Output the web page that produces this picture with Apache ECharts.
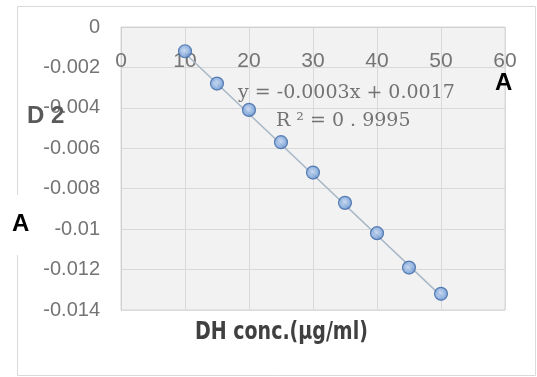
<!DOCTYPE html>
<html>
<head>
<meta charset="utf-8">
<script src="https://cdn.jsdelivr.net/npm/echarts@6/dist/echarts.min.js"></script>
<style>
html, body { margin: 0; padding: 0; background: #fff; }
#main { width: 537px; height: 377px; }
</style>
</head>
<body>
<div id="main"></div>
<script>
// 浓度 (x) 与测得值 (y)
var conc = [10, 15, 20, 25, 30, 35, 40, 45, 50];
var vals = [-0.0012, -0.0028, -0.0041, -0.0057, -0.0072, -0.0087, -0.0102, -0.0119, -0.0132];
// 趋势线两端
var trendX = [10, 50];
var trendY = [-0.0013, -0.0133];
var yTicks = [0, -0.002, -0.004, -0.006, -0.008, -0.01, -0.012, -0.014];

var myChart = echarts.init(document.getElementById('main'));

var points = [];
for (var i = 0; i < conc.length; i++) {
    points.push([conc[i], vals[i]]);
}
var trend = [];
for (var j = 0; j < trendX.length; j++) {
    trend.push([trendX[j], trendY[j]]);
}

var option = {
    animation: false,
    grid: { left: 121, top: 27, right: 32, bottom: 67, show: true, backgroundColor: '#f2f2f2', borderColor: '#d9d9d9', borderWidth: 1 },
    xAxis: {
        type: 'value',
        position: 'top',
        min: 0,
        max: 60,
        interval: 10,
        axisLine: { show: true, lineStyle: { color: '#d0d0d0' } },
        axisTick: { show: false },
        axisLabel: { inside: true, margin: 24, color: '#747474', fontSize: 21, fontFamily: 'Liberation Sans' },
        splitLine: { show: true, lineStyle: { color: '#d9d9d9' } }
    },
    yAxis: {
        type: 'value',
        min: yTicks[yTicks.length - 1],
        max: yTicks[0],
        interval: 0.002,
        axisLine: { show: true, lineStyle: { color: '#d0d0d0' } },
        axisTick: { show: false },
        axisLabel: {
            margin: 21,
            color: '#747474',
            fontSize: 20,
            fontFamily: 'Liberation Sans',
            formatter: function (v) { return String(parseFloat(v.toFixed(3))); }
        },
        splitLine: { show: true, lineStyle: { color: '#d9d9d9' } }
    },
    series: [
        {
            type: 'line',
            data: trend,
            symbol: 'none',
            lineStyle: { color: '#a9b8c8', width: 1.5 },
            z: 2
        },
        {
            type: 'scatter',
            data: points,
            symbol: 'circle',
            symbolSize: 13,
            itemStyle: {
                color: new echarts.graphic.RadialGradient(0.45, 0.45, 0.6, [
                    { offset: 0, color: '#c3d6f2' },
                    { offset: 0.6, color: '#7ea6dc' },
                    { offset: 1, color: '#4f7fc0' }
                ]),
                borderColor: '#3d68a6',
                borderWidth: 1.2
            },
            z: 3
        }
    ],
    graphic: [
        { type: 'rect', left: 15, top: 4, shape: { width: 518, height: 369 }, style: { fill: 'none', stroke: '#d9d9d9', lineWidth: 1 }, z: -1 },
        { type: 'rect', left: 0, top: 195, shape: { width: 45, height: 60 }, style: { fill: '#fff' }, z: 10 },
        { type: 'text', left: 12, top: 212, style: { text: 'A', font: 'bold 24px "Liberation Sans"', fill: '#000' }, z: 11 },
        { type: 'text', left: 495, top: 71, style: { text: 'A', font: 'bold 24px "Liberation Sans"', fill: '#000' }, z: 11 },
        { type: 'text', left: 27, top: 104, style: { text: 'D 2', font: 'bold 24px "Liberation Sans"', fill: '#595959' }, z: 11 },
        { type: 'text', left: 238, top: 84, style: { text: 'y = -0.0003x + 0.0017', font: '19px "DejaVu Serif"', fill: '#737373' }, z: 11 },
        { type: 'text', left: 276, top: 112, style: { text: 'R ² = 0 . 9995', font: '19px "DejaVu Serif"', fill: '#737373' }, z: 11 },
        { type: 'text', x: 195, y: 321, scaleX: 0.88, style: { text: 'DH conc.(μg/ml)', font: 'bold 24px "DejaVu Sans Condensed"', fill: '#404040' }, z: 11 }
    ]
};
myChart.setOption(option);
</script>
</body>
</html>
